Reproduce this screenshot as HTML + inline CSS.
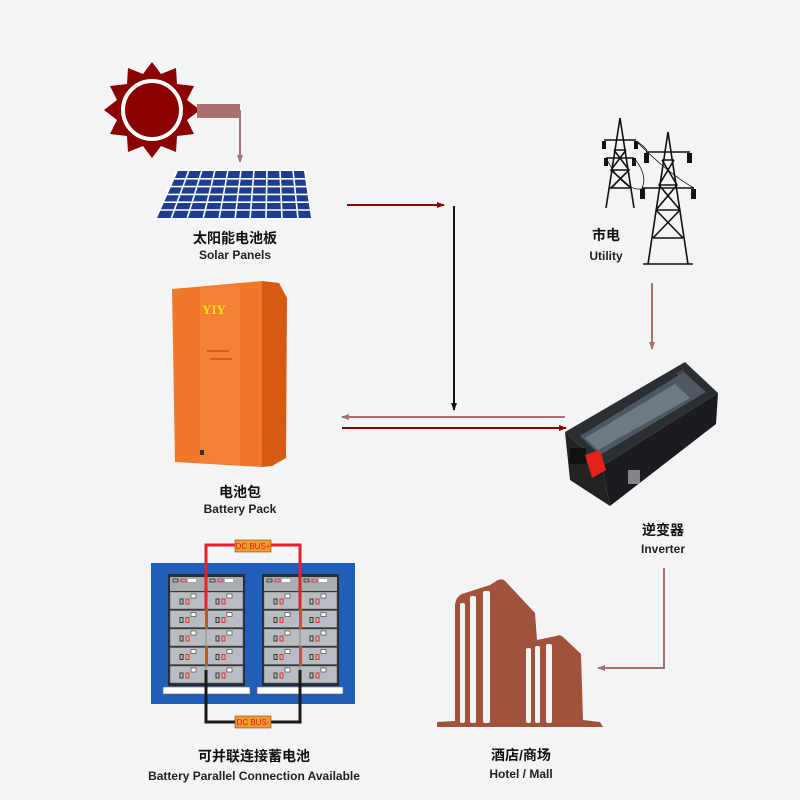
<!DOCTYPE html>
<html><head><meta charset="utf-8"><style>
html,body{margin:0;padding:0;background:#f3f4f6;}
svg{display:block}
.cn{font-family:"Liberation Sans","Noto Sans CJK SC",sans-serif;font-weight:bold;font-size:14px;fill:#111;text-anchor:middle}
.en{font-family:"Liberation Sans","Noto Sans CJK SC",sans-serif;font-weight:bold;font-size:12px;fill:#222;text-anchor:middle}
.bus{font-family:"Liberation Sans",sans-serif;font-size:8px;fill:#e0201a;text-anchor:middle}
</style></head><body>
<svg width="800" height="800" viewBox="0 0 800 800" xmlns="http://www.w3.org/2000/svg">
<defs>
<marker id="ar" markerWidth="8" markerHeight="8" refX="7" refY="4" orient="auto" markerUnits="userSpaceOnUse"><path d="M0,1 L8,4 L0,7z" fill="#8b0000"/></marker>
<marker id="am" markerWidth="8" markerHeight="8" refX="7" refY="4" orient="auto" markerUnits="userSpaceOnUse"><path d="M0,1 L8,4 L0,7z" fill="#a87070"/></marker>
<marker id="ab" markerWidth="8" markerHeight="8" refX="7" refY="4" orient="auto" markerUnits="userSpaceOnUse"><path d="M0,1 L8,4 L0,7z" fill="#111"/></marker>
<g id="mod">
<rect x="0" y="0" width="37" height="17" fill="#b9bcc2" stroke="#555" stroke-width="0.5"/>
<rect x="10" y="7" width="3" height="5" fill="none" stroke="#333" stroke-width="1"/>
<rect x="16" y="7" width="3" height="5" fill="none" stroke="#d33" stroke-width="1"/>
<rect x="21" y="2" width="5" height="4" fill="#fff" stroke="#333" stroke-width="0.6"/>
</g>
<g id="rack">
<rect x="0" y="0" width="77" height="112" fill="#2a2c33"/>
<rect x="2" y="3" width="73" height="14" fill="#a9acb1"/>
<rect x="5" y="5" width="5" height="3" fill="none" stroke="#333" stroke-width="0.8"/>
<rect x="13" y="5" width="5" height="3" fill="none" stroke="#d33" stroke-width="0.8"/>
<rect x="20" y="5" width="8" height="3" fill="#fff"/>
<rect x="42" y="5" width="5" height="3" fill="none" stroke="#333" stroke-width="0.8"/>
<rect x="50" y="5" width="5" height="3" fill="none" stroke="#d33" stroke-width="0.8"/>
<rect x="57" y="5" width="8" height="3" fill="#fff"/>
<use href="#mod" x="2" y="18"/><use href="#mod" x="38" y="18"/>
<use href="#mod" x="2" y="36.5"/><use href="#mod" x="38" y="36.5"/>
<use href="#mod" x="2" y="55"/><use href="#mod" x="38" y="55"/>
<use href="#mod" x="2" y="73.5"/><use href="#mod" x="38" y="73.5"/>
<use href="#mod" x="2" y="92"/><use href="#mod" x="38" y="92"/>
</g>
</defs>

<!-- Sun -->
<g transform="translate(152,110)">
<polygon fill="#8b0000" points="0,-48 9,-36 24,-42 25,-26 42,-24 35,-10 48,0 35,10 42,24 25,26 24,42 9,36 0,48 -9,36 -24,42 -25,26 -42,24 -35,10 -48,0 -35,-10 -42,-24 -25,-26 -24,-42 -9,-36"/>
<circle r="36" fill="#8b0000"/>
<circle r="29" fill="none" stroke="#fff" stroke-width="4"/>
</g>
<rect x="197" y="104" width="43" height="14" fill="#a87070"/>
<line x1="240" y1="110" x2="240" y2="162" stroke="#a87070" stroke-width="2" marker-end="url(#am)"/>

<!-- Solar panels -->
<polygon points="176,169 306,169 313,220 154,220" fill="#fff"/>
<g fill="#1f3d8c">
<polygon points="178,171 304,171 311,218 157,218"/>
</g>
<g stroke="#fff" stroke-width="1.6">
<line x1="171" y1="178.8" x2="307" y2="178.8"/>
<line x1="168" y1="186.6" x2="308" y2="186.6"/>
<line x1="165" y1="194.4" x2="309" y2="194.4"/>
<line x1="162" y1="202.2" x2="310" y2="202.2"/>
<line x1="159" y1="210" x2="311" y2="210"/>
<line x1="189" y1="170" x2="171" y2="219"/>
<line x1="202" y1="170" x2="187" y2="219"/>
<line x1="215" y1="170" x2="203" y2="219"/>
<line x1="228" y1="170" x2="219" y2="219"/>
<line x1="241" y1="170" x2="235" y2="219"/>
<line x1="254" y1="170" x2="250" y2="219"/>
<line x1="267" y1="170" x2="266" y2="219"/>
<line x1="280" y1="170" x2="282" y2="219"/>
<line x1="293" y1="170" x2="298" y2="219"/>
</g>
<text class="cn" x="235" y="243">太阳能电池板</text>
<text class="en" x="235" y="259">Solar Panels</text>

<!-- Utility towers -->
<g stroke="#111" stroke-width="1.6" fill="none">
<path d="M620,118 L606,208 M620,118 L634,208 M614,150 L626,150 M611,170 L629,170 M609,188 L631,188 M614,150 L629,170 L611,188 M626,150 L611,170 L631,188 M604,140 L636,140 M606,158 L634,158"/>
<path d="M668,132 L648,264 M668,132 L688,264 M662,160 L674,160 M659,185 L677,185 M656,210 L680,210 M653,238 L683,238 M662,160 L677,185 L656,210 L683,238 M674,160 L659,185 L680,210 L653,238 M646,152 L690,152 M642,188 L694,188 M643,264 L693,264"/>
<path d="M636,141 Q650,150 646,153 M634,158 Q648,175 642,188 M606,158 Q625,195 646,188 M636,141 Q670,175 694,188" stroke-width="0.8"/>
</g>
<g fill="#111">
<rect x="602" y="141" width="4" height="8"/><rect x="634" y="141" width="4" height="8"/>
<rect x="604" y="158" width="4" height="8"/><rect x="632" y="158" width="4" height="8"/>
<rect x="644" y="153" width="5" height="10"/><rect x="687" y="153" width="5" height="10"/>
<rect x="640" y="189" width="5" height="10"/><rect x="691" y="189" width="5" height="10"/>
</g>
<text class="cn" x="606" y="240">市电</text>
<text class="en" x="606" y="260">Utility</text>
<line x1="652" y1="283" x2="652" y2="349" stroke="#a87070" stroke-width="2" marker-end="url(#am)"/>

<!-- Central arrows -->
<line x1="347" y1="205" x2="444" y2="205" stroke="#8b0000" stroke-width="2" marker-end="url(#ar)"/>
<line x1="454" y1="206" x2="454" y2="410" stroke="#111" stroke-width="2" marker-end="url(#ab)"/>
<line x1="565" y1="417" x2="342" y2="417" stroke="#a87070" stroke-width="2" marker-end="url(#am)"/>
<line x1="342" y1="428" x2="566" y2="428" stroke="#8b0000" stroke-width="2" marker-end="url(#ar)"/>

<!-- Battery pack -->
<polygon points="262,281 279,283 287,298 286,458 272,466 262,467" fill="#d65a12"/>
<polygon points="172,289 262,281 262,467 175,462" fill="#f0782a"/>
<polygon points="200,287 240,284 240,465 200,463" fill="#f5853a" opacity="0.6"/>
<text x="214" y="314" font-family="Liberation Serif,serif" font-weight="bold" font-size="13" fill="#f4e020" text-anchor="middle">YIY</text>
<rect x="207" y="350" width="22" height="2" fill="#b54c10" opacity="0.6"/>
<rect x="210" y="358" width="22" height="2" fill="#b54c10" opacity="0.6"/>
<rect x="200" y="450" width="4" height="5" fill="#333"/>
<text class="cn" x="240" y="497">电池包</text>
<text class="en" x="240" y="513">Battery Pack</text>

<!-- Inverter -->
<polygon points="565,432 685,362 718,393 602,466" fill="#2b2e33"/>
<polygon points="580,436 684,372 706,392 600,455" fill="#4d5862"/>
<polygon points="585,438 675,384 690,398 598,450" fill="#7a8893" opacity="0.7"/>
<polygon points="602,466 718,393 716,424 610,506" fill="#1a1c1f"/>
<polygon points="565,432 602,466 610,506 570,480" fill="#222"/>
<rect x="570" y="448" width="16" height="16" fill="#111"/>
<polygon points="585,455 600,450 606,470 592,478" fill="#e2231a"/>
<rect x="628" y="470" width="12" height="14" fill="#ccc" opacity="0.6"/>
<text x="678" y="376" font-family="Liberation Sans" font-size="5" fill="#e07020" transform="rotate(-30 678 376)">YIY</text>
<text class="cn" x="663" y="535">逆变器</text>
<text class="en" x="663" y="553">Inverter</text>
<polyline points="664,568 664,668 598,668" fill="none" stroke="#a87070" stroke-width="2" marker-end="url(#am)"/>

<!-- Hotel -->
<g fill="#a0523d">
<path d="M437,727 L437,722 L455,721 L455,605 Q456,595 465,593 L490,585 L498,580 Q503,578 506,582 L535,613 L537,640 L556,636 Q560,634 563,637 L581,654 L583,720 L600,722 L603,727 Z"/>
</g>
<g fill="#f3f4f6">
<rect x="460" y="603" width="5" height="120" rx="2"/>
<rect x="470" y="596" width="6" height="127" rx="2"/>
<rect x="483" y="591" width="7" height="132" rx="2"/>
<rect x="526" y="648" width="5" height="75" rx="2"/>
<rect x="535" y="646" width="5" height="77" rx="2"/>
<rect x="546" y="644" width="6" height="79" rx="2"/>
</g>
<text class="cn" x="521" y="760">酒店/商场</text>
<text class="en" x="521" y="778">Hotel / Mall</text>

<!-- Battery rack -->
<rect x="151" y="563" width="204" height="141" fill="#2c68c0"/>
<rect x="151" y="563" width="204" height="141" fill="#0d4aa5" opacity="0.3"/>
<use href="#rack" x="168" y="574"/>
<use href="#rack" x="262" y="574"/>
<rect x="163" y="687" width="87" height="7" fill="#fff" stroke="#666" stroke-width="0.6"/>
<rect x="257" y="687" width="86" height="7" fill="#fff" stroke="#666" stroke-width="0.6"/>
<polyline points="206,609 206,545 300,545 300,609" fill="none" stroke="#e5202a" stroke-width="3"/>
<polyline points="206,670 206,722 300,722 300,670" fill="none" stroke="#1a1a1a" stroke-width="3"/>
<rect x="205" y="609" width="3" height="20" fill="#b06020"/>
<rect x="205" y="646" width="3" height="20" fill="#b06020"/>
<rect x="299" y="609" width="3" height="20" fill="#b06020"/>
<rect x="299" y="646" width="3" height="20" fill="#b06020"/>
<rect x="235" y="540" width="36" height="12" fill="#f29a2e" stroke="#7a4a10" stroke-width="0.6"/>
<text class="bus" x="253" y="549">DC BUS+</text>
<rect x="235" y="716" width="36" height="12" fill="#f29a2e" stroke="#7a4a10" stroke-width="0.6"/>
<text class="bus" x="253" y="725">DC BUS-</text>
<text class="cn" x="254" y="761">可并联连接蓄电池</text>
<text class="en" x="254" y="780">Battery Parallel Connection Available</text>
</svg>
</body></html>
